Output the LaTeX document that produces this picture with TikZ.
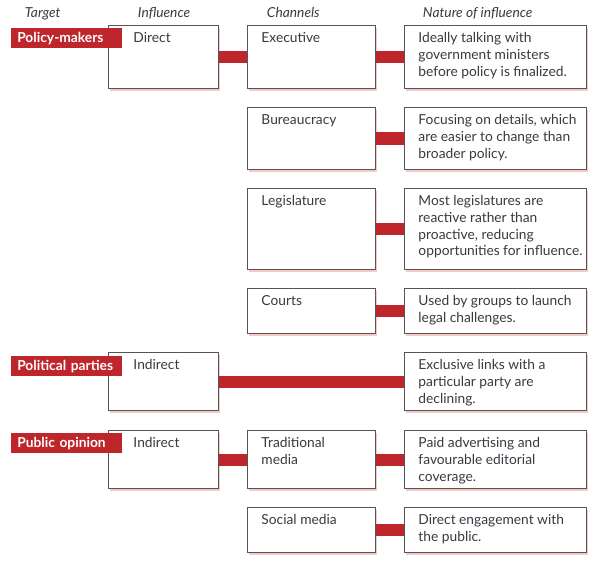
\documentclass[tikz,border=0pt]{standalone}
\usepackage{fontspec}
\setmainfont{Lato}
\usepackage{tikz}
\usepackage{xcolor}
\usetikzlibrary{shadows}
\definecolor{grpred}{RGB}{190,38,44}
\definecolor{grpline}{RGB}{85,85,85}
\definecolor{grptext}{RGB}{60,56,66}
\definecolor{grpshade}{RGB}{235,150,140}
\newlength\px
\setlength\px{0.025cm}
% text cell: [left pad], width, height (px), text
\newcommand{\celltxt}[4][14]{\parbox[t][\dimexpr#3\px-10\px\relax][t]{#2\px}{\raggedright
  \leftskip=#1\px \rightskip=4\px plus 1fil\strut#4}}

\begin{document}
\begin{tikzpicture}[x=0.025cm, y=-0.025cm,
  every node/.style={font=\fontsize{9.8}{12}\selectfont, text=grptext},
  box/.style={draw=grpline, line width=0.7pt, fill=white, anchor=north west,
    inner xsep=0pt, inner ysep=0.125cm,
    drop shadow={shadow xshift=0.5mm, shadow yshift=-0.7mm, fill=grpshade, opacity=0.5}},
  head/.style={anchor=base west, font=\fontsize{9.8}{12}\selectfont\itshape},
  tag/.style={fill=grpred, text=white, anchor=north west, minimum height=0.5cm,
    text width=2.475cm, align=left, inner xsep=0.15cm, inner ysep=0pt,
    font=\fontsize{9.8}{12}\selectfont\bfseries},
  link/.style={draw=grpred, line width=0.3cm}]
\useasboundingbox (0,0) rectangle (600,568);
% column heads
\node[head] (htarget) at (20,17) {Target};
\node[head] (hinfl) at (133,17) {Influence};
\node[head] (hchan) at (262,17) {Channels};
\node[head] (hnat) at (418,17) {Nature of influence};
% influence
\node[box] (direct) at (108,25) {\celltxt[25]{110}{63}{Direct}};
\node[box] (indparty) at (108,352) {\celltxt[25]{110}{58}{Indirect}};
\node[box] (indpub) at (108,430) {\celltxt[25]{110}{58}{Indirect}};
% channels
\node[box] (exec) at (247,25) {\celltxt{128}{63}{Executive}};
\node[box] (bureau) at (247,107) {\celltxt{128}{62}{Bureaucracy}};
\node[box] (legis) at (247,188) {\celltxt{128}{81}{Legislature}};
\node[box] (courts) at (247,288) {\celltxt{128}{45}{Courts}};
\node[box] (tradmedia) at (247,430) {\celltxt{128}{58}{Traditional\\media}};
\node[box] (socmedia) at (247,507) {\celltxt{128}{45}{Social media}};
% nature of influence
\node[box] (nexec) at (404,25) {\celltxt{182}{63}{Ideally talking with government ministers before policy is finalized.}};
\node[box] (nbureau) at (404,107) {\celltxt{182}{62}{Focusing on details, which are easier to change than broader policy.}};
\node[box] (nlegis) at (404,188) {\celltxt{182}{81}{Most legislatures are reactive rather than proactive, reducing opportunities for influence.}};
\node[box] (ncourts) at (404,288) {\celltxt{182}{45}{Used by groups to launch legal challenges.}};
\node[box] (nparty) at (404,352) {\celltxt{182}{58}{Exclusive links with a particular party are declining.}};
\node[box] (ntrad) at (404,430) {\celltxt{182}{58}{Paid advertising and favourable editorial coverage.}};
\node[box] (nsoc) at (404,507) {\celltxt{182}{45}{Direct engagement with the public.}};
% links
\draw[link] (direct) -- (exec);
\draw[link] (exec) -- (nexec);
\draw[link] (bureau) -- (nbureau);
\draw[link] (legis) -- (nlegis);
\draw[link] (courts) -- (ncourts);
\draw[link] (indparty) -- (nparty);
\draw[link] (indpub) -- (tradmedia);
\draw[link] (tradmedia) -- (ntrad);
\draw[link] (socmedia) -- (nsoc);
% targets
\node[tag] (tpolicy) at (11,28) {Policy-makers};
\node[tag] (tparty) at (11,356) {Political parties};
\node[tag] (tpublic) at (11,433) {Public opinion};
\end{tikzpicture}
\end{document}
